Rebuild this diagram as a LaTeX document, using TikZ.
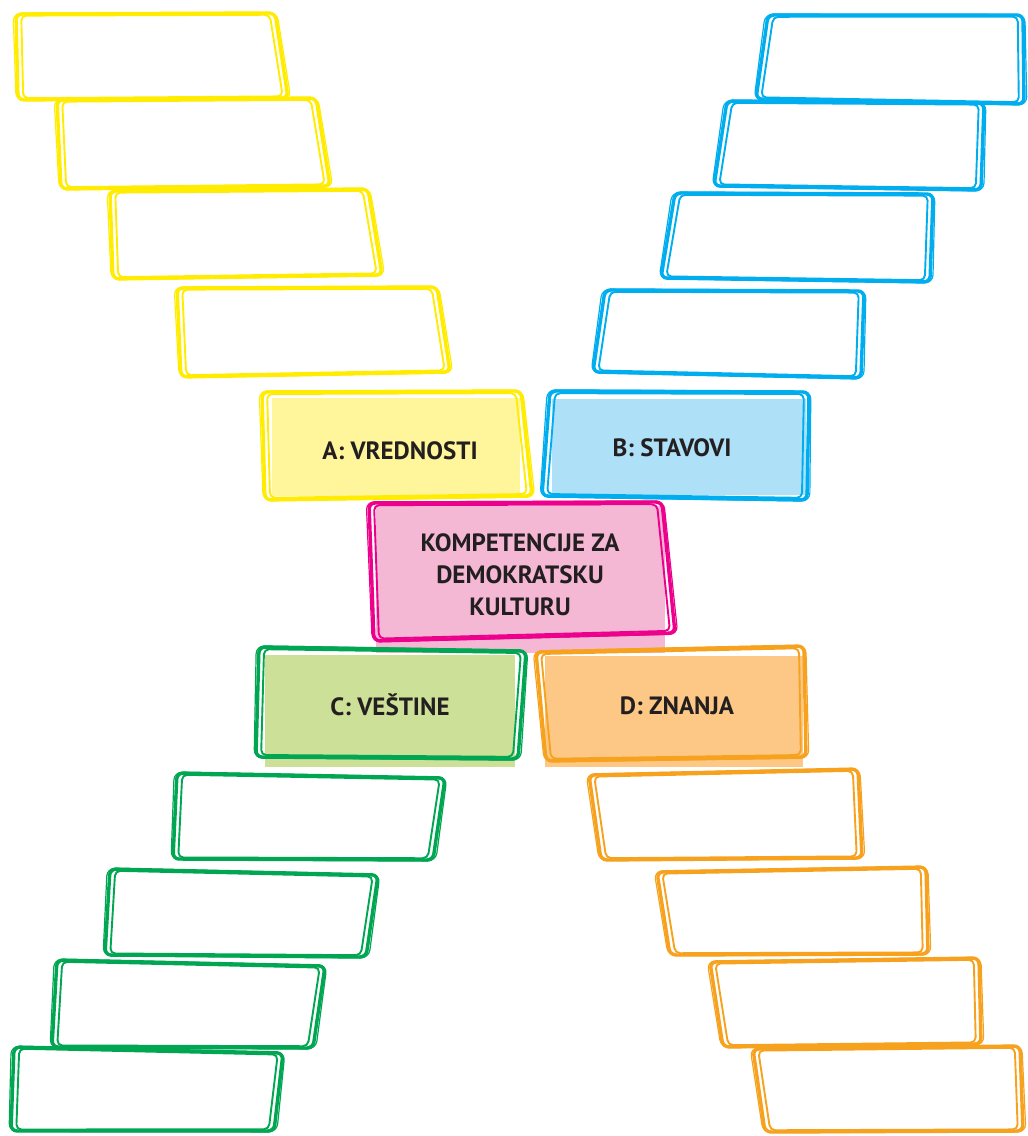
\documentclass[tikz,border=0pt]{standalone}
\usepackage{fontspec}
\setmainfont{PT Sans}
\usetikzlibrary{calc,positioning}

\definecolor{yelline}{HTML}{FFEC00}
\definecolor{yelfill}{HTML}{FFF59B}
\definecolor{bluline}{HTML}{00AEEF}
\definecolor{blufill}{HTML}{AEE1F8}
\definecolor{pinkline}{HTML}{EC008C}
\definecolor{pinkfill}{HTML}{F4B8D4}
\definecolor{grnline}{HTML}{00A651}
\definecolor{grnfill}{HTML}{CDE098}
\definecolor{orgline}{HTML}{F7A21F}
\definecolor{orgfill}{HTML}{FDC886}
\definecolor{txtdark}{HTML}{231F20}

\tikzset{
  boxtext/.style={font=\fontsize{25}{32}\selectfont\bfseries, text=txtdark, align=center},
  outerstroke/.style={line width=3.4pt, rounded corners=6pt, line join=round},
  innerstroke/.style={line width=1.9pt, rounded corners=5pt, line join=round},
  thinstroke/.style={line width=1.2pt, rounded corners=8pt, line join=round}
}

% hand drawn quad: colour, top-left, top-right, bottom-right, bottom-left
\newcommand{\sketchquad}[5]{%
  \draw[#1,outerstroke] (#2) -- (#3) -- (#4) -- (#5) -- cycle;
  \draw[#1,innerstroke] ($(#2)!5.5pt!(#4)$) -- ($(#3)!5.5pt!(#5)$)
     -- ($(#4)!5.5pt!(#2)$) -- ($(#5)!5.5pt!(#3)$) -- cycle;
  \draw[#1,thinstroke] ($(#2)!-3pt!(#4)$) -- ($(#3)!-2pt!(#5)$)
     -- ($(#4)!-3pt!(#2)$) -- ($(#5)!-2pt!(#3)$) -- cycle;
}

\begin{document}
\begin{tikzpicture}[x=1pt,y=-1pt]
  \useasboundingbox (0,0) rectangle (1028,1136);

  %yellow steps (top left)
  \sketchquad{yelline}{16,14}{275,13}{288,98}{18,100}
  \sketchquad{yelline}{57,100}{316,98}{330,186}{61,189}
  \sketchquad{yelline}{110,191}{368,189}{382,275}{113,279}
  \sketchquad{yelline}{177,288}{437,287}{450,372}{181,377}

  %blue steps (top right)
  \sketchquad{bluline}{768,15}{1023,15}{1024,104}{756,99}
  \sketchquad{bluline}{727,101}{984,103}{981,190}{714,186}
  \sketchquad{bluline}{675,193}{933,194}{930,282}{661,278}
  \sketchquad{bluline}{605,290}{864,291}{861,378}{593,372}

  %green steps (bottom left)
  \sketchquad{grnline}{177,773}{445,778}{433,860}{173,859}
  \sketchquad{grnline}{110,869}{378,875}{366,957}{105,955}
  \sketchquad{grnline}{57,960}{325,966}{313,1048}{52,1047}
  \sketchquad{grnline}{14,1047}{283,1053}{274,1131}{11,1131}

  %orange steps (bottom right)
  \sketchquad{orgline}{589,775}{858,769}{862,858}{601,860}
  \sketchquad{orgline}{657,872}{926,867}{928,954}{670,955}
  \sketchquad{orgline}{710,962}{979,958}{981,1044}{723,1047}
  \sketchquad{orgline}{753,1049}{1020,1046}{1023,1131}{765,1132}

  %A: values
  \fill[yelfill] (272,398) rectangle (520,496);
  \sketchquad{yelline}{262,392}{521,391}{532,496}{265,500}
  \node[boxtext] (vrednosti) at (400,451) {A: VREDNOSTI};

  %B: attitudes
  \fill[blufill] (552,399) rectangle (806,495);
  \sketchquad{bluline}{550,391}{809,392}{807,500}{542,496}
  \node[boxtext] (stavovi) at (672,448) {B: STAVOVI};

  %centre
  \fill[pinkfill] (376,506) rectangle (665,653);
  \sketchquad{pinkline}{369,503}{662,502}{675,633}{374,641}
  \node[boxtext] (kompetencije) at (520,575) {KOMPETENCIJE ZA\\DEMOKRATSKU\\KULTURU};

  %C: skills
  \fill[grnfill] (265,655) rectangle (515,767);
  \sketchquad{grnline}{259,647}{526,651}{518,759}{256,757}
  \node[boxtext] (vestine) at (390,705) {C: VEŠTINE};

  %D: knowledge
  \fill[orgfill] (545,656) rectangle (803,767);
  \sketchquad{orgline}{536,652}{804,646}{806,757}{546,761}
  \node[boxtext] (znanja) at (677,706) {D: ZNANJA};
\end{tikzpicture}
\end{document}
